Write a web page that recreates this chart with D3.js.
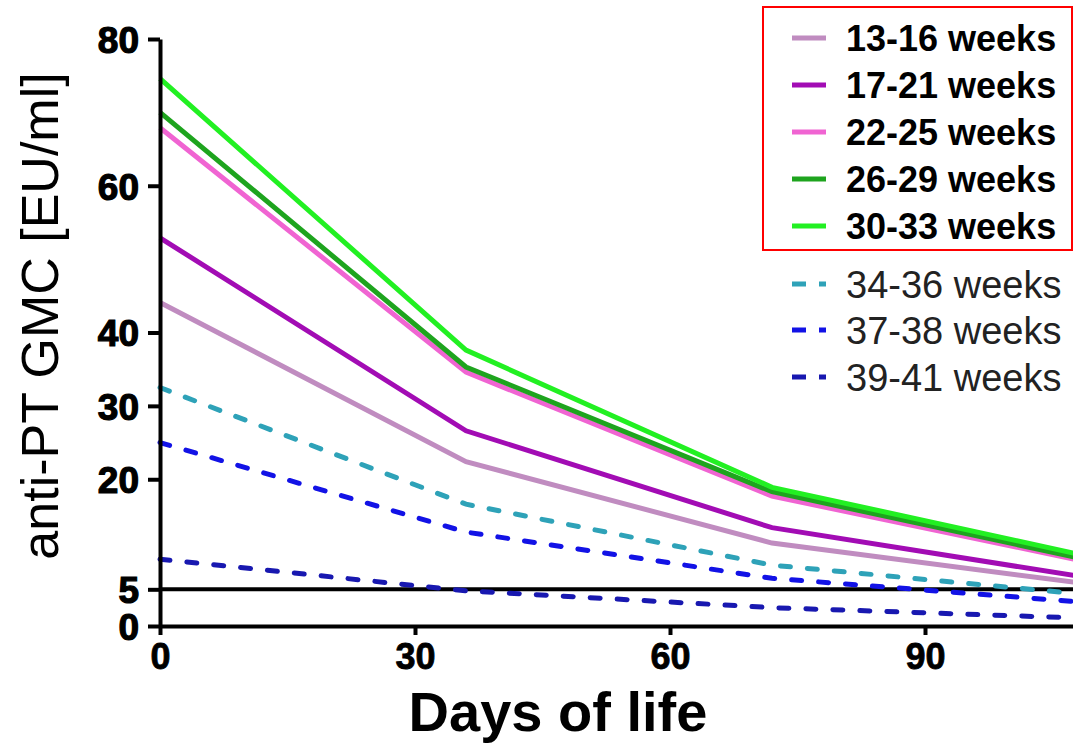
<!DOCTYPE html>
<html>
<head>
<meta charset="utf-8">
<script src="https://cdn.jsdelivr.net/npm/d3@7"></script>
<style>
  body { margin: 0; background: #fff; }
  svg { display: block; font-family: "Liberation Sans", Arial, sans-serif; }
</style>
</head>
<body>
<div id="chart"></div>
<script>
// days of life at which GMC was measured
const days = [0, 36, 72, 108];

const groups = ["13-16 weeks", "17-21 weeks", "22-25 weeks", "26-29 weeks", "30-33 weeks",
                "34-36 weeks", "37-38 weeks", "39-41 weeks"];

const gmc13_16 = [44.1, 22.4, 11.3, 5.9];
const gmc17_21 = [52.9, 26.6, 13.4, 6.8];
const gmc22_25 = [67.9, 34.6, 17.7, 9.0];
const gmc26_29 = [70.0, 35.3, 18.3, 9.3];
const gmc30_33 = [74.6, 37.6, 18.9, 9.8];
const gmc34_36 = [32.5, 16.6, 8.3, 4.4];
const gmc37_38 = [25.0, 12.8, 6.5, 3.3];
const gmc39_41 = [9.1, 4.8, 2.5, 1.1];

const yTicks = [0, 5, 20, 30, 40, 60, 80];
const xTicks = [0, 30, 60, 90];
const cutoff = 5;

const seriesValues = [gmc13_16, gmc17_21, gmc22_25, gmc26_29, gmc30_33, gmc34_36, gmc37_38, gmc39_41];
const colors = ["#c08cc0", "#a20cb4", "#f064d2", "#1ea41e", "#22f022", "#2ea2b8", "#1212e6", "#1818b0"];
const dashed = [false, false, false, false, false, true, true, true];

const W = 1073, H = 748;
const svg = d3.select("#chart").append("svg")
    .attr("width", W)
    .attr("height", H);

const xScale = d3.scaleLinear().domain([0, 110]).range([160, 160 + 110 * 8.5]);
const yScale = d3.scaleLinear().domain([0, 80]).range([626, 39]);

// reference line at 5 EU/ml
svg.append("line")
    .attr("x1", xScale(0)).attr("x2", W)
    .attr("y1", yScale(cutoff)).attr("y2", yScale(cutoff))
    .style("stroke", "#000")
    .style("stroke-width", 4);

// series
const line = d3.line()
    .x((d, i) => xScale(days[i]))
    .y(d => yScale(d));

seriesValues.forEach((vals, i) => {
    svg.append("path")
        .datum(vals)
        .attr("d", line)
        .style("fill", "none")
        .style("stroke", colors[i])
        .style("stroke-width", 5)
        .style("stroke-linecap", dashed[i] ? "round" : "butt")
        .style("stroke-dasharray", dashed[i] ? "10,17" : null);
});

// axes
const xAxis = svg.append("g")
    .attr("transform", `translate(0, ${yScale(0)})`)
    .call(d3.axisBottom(xScale).tickValues(xTicks).tickSize(9).tickPadding(8).tickSizeOuter(0));

const yAxis = svg.append("g")
    .attr("transform", `translate(${xScale(0)}, 0)`)
    .call(d3.axisLeft(yScale).tickValues(yTicks).tickSize(12).tickPadding(9).tickSizeOuter(0));

svg.selectAll(".domain")
    .style("stroke", "#000")
    .style("stroke-width", 4);
svg.selectAll(".tick line")
    .style("stroke", "#000")
    .style("stroke-width", 4);

xAxis.selectAll(".tick text")
    .style("font-family", "Liberation Sans, Arial, sans-serif")
    .style("font-size", "36px")
    .style("font-weight", "bold")
    .style("fill", "#000")
    .style("stroke", "#000")
    .style("stroke-width", 0.8);

yAxis.selectAll(".tick text")
    .style("font-family", "Liberation Sans, Arial, sans-serif")
    .style("font-size", "37px")
    .style("font-weight", "bold")
    .style("fill", "#000")
    .style("stroke", "#000")
    .style("stroke-width", 1.2)
    .attr("dy", "0.36em");

// axis titles
svg.append("text")
    .attr("x", 558)
    .attr("y", 731)
    .style("text-anchor", "middle")
    .style("font-size", "56px")
    .style("font-weight", "bold")
    .text("Days of life");

svg.append("text")
    .attr("transform", "rotate(-90)")
    .attr("x", -316)
    .attr("y", 58)
    .style("text-anchor", "middle")
    .style("font-size", "52px")
    .text("anti-PT GMC [EU/ml]");

// legend
svg.append("rect")
    .attr("x", 763)
    .attr("y", 7)
    .attr("width", 309)
    .attr("height", 243)
    .style("fill", "none")
    .style("stroke", "#f00")
    .style("stroke-width", 2);

const legendY = [38, 85, 132, 179, 226, 284, 330, 377];
groups.forEach((name, i) => {
    const y = legendY[i];
    svg.append("line")
        .attr("x1", 792).attr("x2", 826)
        .attr("y1", y).attr("y2", y)
        .style("stroke", colors[i])
        .style("stroke-width", 5)
        .style("stroke-dasharray", dashed[i] ? "14,13" : null);

    svg.append("text")
        .attr("x", 846)
        .attr("y", y)
        .attr("dy", "0.36em")
        .style("font-size", dashed[i] ? "38px" : "36px")
        .style("font-weight", dashed[i] ? "normal" : "bold")
        .style("fill", dashed[i] ? "#222" : "#000")
        .text(name);
});
</script>
</body>
</html>
